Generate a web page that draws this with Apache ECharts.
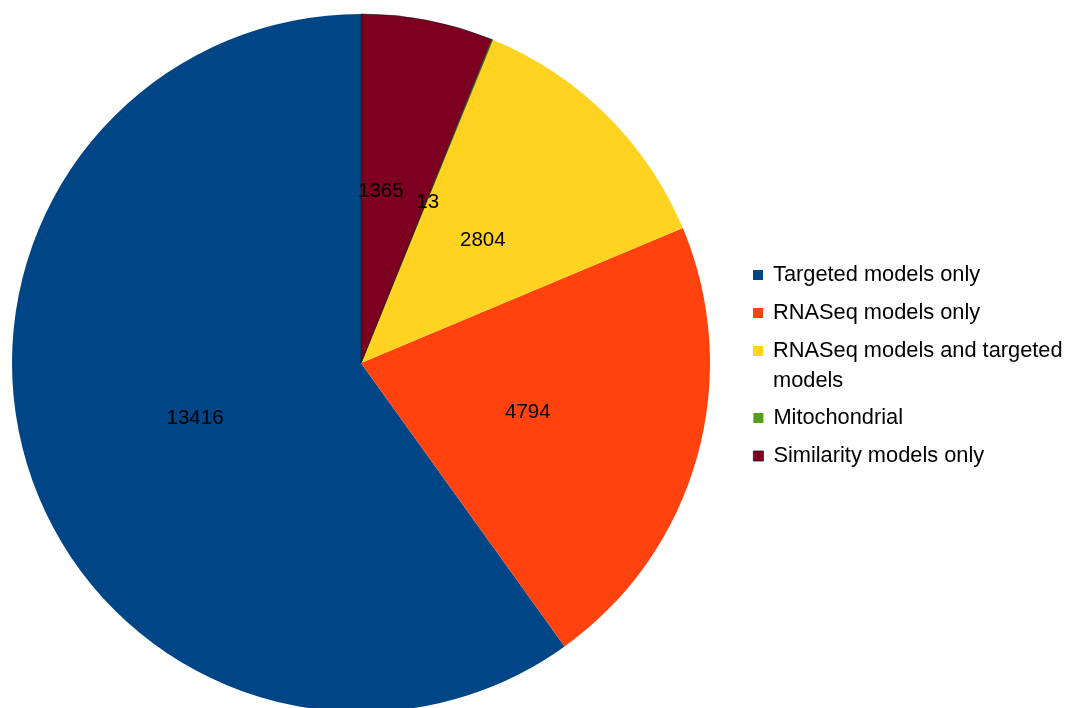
<!DOCTYPE html>
<html>
<head>
<meta charset="utf-8">
<script src="https://cdn.jsdelivr.net/npm/echarts@6/dist/echarts.min.js"></script>
<style>
* {
  margin: 0;
  padding: 0;
}
#chart {
  width: 1066px;
  height: 708px;
  background: #fff;
}
</style>
</head>
<body>
<div id="chart"></div>
<script>
// data
const categories = [
  "Targeted models only",
  "RNASeq models only",
  "RNASeq models and targeted models",
  "Mitochondrial",
  "Similarity models only"
];
const values = [13416, 4794, 2804, 13, 1365];
const colors = ["#004586", "#ff420e", "#ffd320", "#579d1c", "#7e0021"];

const font = "Liberation Sans";

const seriesData = categories.map((name, i) => ({
  name: name,
  value: values[i],
  itemStyle: {
    color: colors[i],
    borderColor: i >= 3 ? "#1a1a1a" : colors[i],
    borderWidth: i >= 3 ? 0.6 : 0
  }
}));

const legendBase = {
  orient: "vertical",
  left: 753,
  padding: 0,
  itemWidth: 10,
  itemHeight: 10,
  itemGap: 8,
  icon: "rect",
  selectedMode: false,
  textStyle: {
    fontFamily: font,
    fontSize: 21.8,
    color: "#000",
    lineHeight: 30,
    padding: [0, 0, 0, 5]
  }
};

// legend markers: only the similarity one has a dark edge
const legendItem = i => ({
  name: categories[i],
  itemStyle: {
    color: colors[i],
    borderColor: "#1a1a1a",
    borderWidth: i === 4 ? 0.8 : 0
  }
});

const chart = echarts.init(document.getElementById("chart"));
chart.setOption({
  animation: false,
  legend: [
    Object.assign({}, legendBase, {
      top: 260,
      data: [legendItem(0), legendItem(1)]
    }),
    Object.assign({}, legendBase, {
      top: 306,
      data: [legendItem(2)],
      // blank first line keeps the marker level with the first text line
      formatter: () => " \nRNASeq models and targeted\nmodels"
    }),
    Object.assign({}, legendBase, {
      top: 403,
      data: [legendItem(3), legendItem(4)]
    })
  ],
  series: [
    {
      type: "pie",
      center: [361, 363],
      radius: [0, 349],
      startAngle: 90,
      clockwise: false,
      minShowLabelAngle: 0,
      label: {
        show: true,
        position: "inside",
        formatter: "{c}",
        color: "#000",
        fontFamily: font,
        fontSize: 20.5
      },
      labelLayout: function (params) {
        // small nudges like the original's label placement
        if (params.dataIndex === 4) return { dx: -14, dy: 3 };
        if (params.dataIndex === 2) return { dx: -3, dy: 4 };
        if (params.dataIndex === 1) return { dx: -4, dy: 1 };
        if (params.dataIndex === 0) return { dx: 3, dy: 1 };
        if (params.dataIndex === 3) return { dy: 4 };
      },
      labelLine: { show: false },
      emphasis: { disabled: true },
      data: seriesData
    }
  ]
});
</script>
</body>
</html>
